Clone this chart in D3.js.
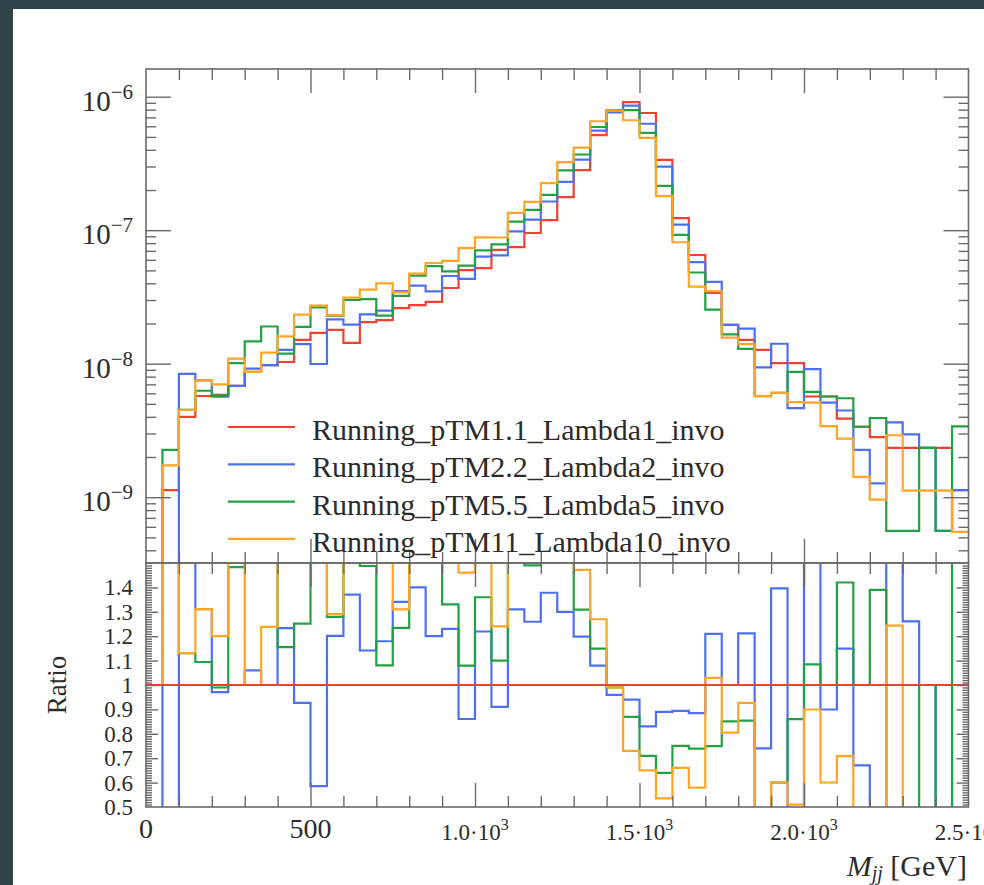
<!DOCTYPE html>
<html>
<head>
<meta charset="utf-8">
<script src="https://cdn.jsdelivr.net/npm/d3@7"></script>
<style>
  body { margin: 0; background: #2f434a; }
  svg { display: block; }
  text { font-family: "Liberation Serif", "DejaVu Serif", serif; fill: #2b2b2b; }
</style>
</head>
<body>
<svg id="chart" width="984" height="885"></svg>
<script>

// bin edges in GeV (50 GeV bins)
var binEdges = [0, 50, 100, 150, 200, 250, 300, 350, 400, 450, 500, 550, 600, 650, 700, 750, 800, 850, 900, 950,
  1000, 1050, 1100, 1150, 1200, 1250, 1300, 1350, 1400, 1450, 1500, 1550, 1600, 1650, 1700, 1750, 1800, 1850, 1900, 1950,
  2000, 2050, 2100, 2150, 2200, 2250, 2300, 2350, 2400, 2450, 2500];

// histogram contents, in units of 1e-9
var unit = 1e-9;
var valsLambda1 = [0, 1.13, 3.99, 5.73, 5.83, 6.81, 8.67, 9.77, 10.3, 15.1, 17.0, 17.9, 14.3, 20.5, 21.2, 26.1, 27.5, 29.0, 36.9, 50.2,
  52.0, 71.1, 74.8, 95.3, 119, 177, 282, 516, 795, 912, 755, 336, 123, 65.2, 33.9, 19.5, 15.1, 12.7, 10.1, 10.1,
  5.68, 5.68, 3.88, 3.37, 2.82, 2.34, 2.34, 2.34, 2.34, 1.13];
var valsLambda2 = [0, 0, 8.38, 7.51, 5.66, 6.81, 9.19, 9.77, 12.7, 14.0, 9.95, 21.5, 19.6, 23.4, 25.0, 35.0, 38.5, 34.8, 45.4, 43.2,
  63.4, 64.7, 98.0, 120, 164, 230, 338, 557, 763, 857, 627, 299, 110, 57.7, 41.0, 19.5, 18.3, 9.4, 14.1, 4.65,
  9.09, 5.11, 4.46, 2.26, 1.27, 3.63, 2.95, 2.34, 0.56, 1.13];
var valsLambda5 = [0, 2.26, 4.51, 6.27, 5.77, 10.1, 14.7, 19.0, 11.9, 18.9, 26.4, 22.9, 30.0, 30.5, 22.9, 32.2, 45.7, 53.9, 49.1, 54.2,
  70.7, 78.2, 116, 142, 184, 281, 369, 593, 787, 793, 536, 215, 92.3, 48.2, 25.4, 16.6, 12.9, 5.72, 6.06, 8.69,
  6.16, 5.68, 5.51, 3.37, 3.92, 0.56, 0.56, 2.34, 0.56, 3.39];
var valsLambda10 = [0, 1.73, 4.51, 7.51, 7.0, 10.9, 8.67, 12.1, 16.0, 23.3, 27.2, 23.1, 31.2, 35.9, 40.0, 34.2, 47.3, 56.8, 59.0, 73.3,
  88.4, 88.2, 135, 163, 225, 324, 415, 655, 787, 666, 491, 180, 81.2, 37.8, 34.9, 15.7, 14.0, 5.72, 6.06, 5.15,
  5.11, 3.41, 2.75, 1.42, 0.96, 2.91, 1.12, 1.12, 1.12, 0.55];

var seriesNames = ["Running_pTM1.1_Lambda1_invo", "Running_pTM2.2_Lambda2_invo",
  "Running_pTM5.5_Lambda5_invo", "Running_pTM11_Lambda10_invo"];
var seriesColors = ["#f0402f", "#4d70f0", "#23a043", "#ffa526"];

// axis labels
var mainDecades = [-6, -7, -8, -9];
var ratioTicks = [1.4, 1.3, 1.2, 1.1, 1.0, 0.9, 0.8, 0.7, 0.6, 0.5];
var ratioTickLabels = ["1.4", "1.3", "1.2", "1.1", "1", "0.9", "0.8", "0.7", "0.6", "0.5"];
var xMajorTicks = [0, 500, 1000, 1500, 2000, 2500];
var xTickMantissa = ["0", "500", "1.0\u00b710", "1.5\u00b710", "2.0\u00b710", "2.5\u00b710"];
var xTickExp = ["", "", "3", "3", "3", "3"];

var allVals = [valsLambda1, valsLambda2, valsLambda5, valsLambda10];

var W = 984, H = 885;
var pLeft = 146, pRight = 968.5, pTop = 69, pSplit = 563, pBottom = 807;

var svg = d3.select("#chart");

svg.append("rect").attr("width", W).attr("height", H).attr("fill", "#2f434a");
svg.append("rect").attr("x", 13).attr("y", 9).attr("width", W - 13).attr("height", H - 9).attr("fill", "#ffffff");

var x = d3.scaleLinear().domain([0, 2500]).range([pLeft, pRight]);
var yMain = d3.scaleLog().domain([Math.pow(10, -9.493), Math.pow(10, -5.7925)]).range([pSplit, pTop]);
var yRatio = d3.scaleLinear().domain([0.5, 1.5]).range([pBottom, pSplit]);

var defs = svg.append("defs");
defs.append("clipPath").attr("id", "clipMain")
  .append("rect").attr("x", pLeft).attr("y", pTop).attr("width", pRight - pLeft).attr("height", pSplit - pTop);
defs.append("clipPath").attr("id", "clipRatio")
  .append("rect").attr("x", pLeft).attr("y", pSplit).attr("width", pRight - pLeft).attr("height", pBottom - pSplit);

var line = d3.line().curve(d3.curveStepAfter);

function stepPoints(vals, f) {
  var pts = vals.map(function(v, i) { return [x(binEdges[i]), f(v, i)]; });
  var n = vals.length;
  pts.push([x(binEdges[n]), f(vals[n - 1], n - 1)]);
  return pts;
}

// ---- main panel
var gMain = svg.append("g").attr("clip-path", "url(#clipMain)");
allVals.forEach(function(vals, s) {
  gMain.append("path")
    .attr("d", line(stepPoints(vals, function(v) {
      return v > 0 ? yMain(v * unit) : pSplit + 60;
    })))
    .attr("fill", "none")
    .attr("stroke", seriesColors[s])
    .attr("stroke-width", 2.2);
});

// ---- ratio panel
var gRatio = svg.append("g").attr("clip-path", "url(#clipRatio)");
var ref = valsLambda1;
[1, 2, 3].forEach(function(s) {
  var vals = allVals[s];
  gRatio.append("path")
    .attr("d", line(stepPoints(vals, function(v, i) {
      var r = ref[i] > 0 ? v / ref[i] : 1;
      return Math.max(pSplit - 60, Math.min(pBottom + 60, yRatio(r)));
    })))
    .attr("fill", "none")
    .attr("stroke", seriesColors[s])
    .attr("stroke-width", 2.2);
});

// ---- frames
var frameColor = "#6a6a6a";
svg.append("rect").attr("x", pLeft).attr("y", pTop).attr("width", pRight - pLeft).attr("height", pSplit - pTop)
  .attr("fill", "none").attr("stroke", frameColor).attr("stroke-width", 1.6);
svg.append("rect").attr("x", pLeft).attr("y", pSplit).attr("width", pRight - pLeft).attr("height", pBottom - pSplit)
  .attr("fill", "none").attr("stroke", frameColor).attr("stroke-width", 1.6);

function styleAxis(g) {
  g.select(".domain").remove();
  g.selectAll(".tick line").attr("stroke", frameColor).attr("stroke-width", 1.4);
  g.selectAll(".tick text").remove();
}

// x ticks (inside, on every horizontal edge)
var xMinor = d3.range(100, 2500, 100).filter(function(v) { return v % 500 !== 0; });
var xMajorIn = [500, 1000, 1500, 2000];
[[pTop, d3.axisBottom], [pSplit, d3.axisTop], [pSplit, d3.axisBottom], [pBottom, d3.axisTop]].forEach(function(e) {
  svg.append("g").attr("transform", "translate(0," + e[0] + ")")
    .call(e[1](x).tickValues(xMinor).tickSize(11)).call(styleAxis);
  svg.append("g").attr("transform", "translate(0," + e[0] + ")")
    .call(e[1](x).tickValues(xMajorIn).tickSize(24)).call(styleAxis);
});

// log y ticks on main panel
var logMinor = [];
[-10, -9, -8, -7, -6].forEach(function(d) {
  for (var k = 2; k <= 9; k++) {
    var v = k * Math.pow(10, d);
    if (v > yMain.domain()[0] && v < yMain.domain()[1]) logMinor.push(v);
  }
});
var logMajor = mainDecades.map(function(d) { return Math.pow(10, d); });
[[pLeft, d3.axisRight], [pRight, d3.axisLeft]].forEach(function(e) {
  svg.append("g").attr("transform", "translate(" + e[0] + ",0)")
    .call(e[1](yMain).tickValues(logMinor).tickSize(10)).call(styleAxis);
  svg.append("g").attr("transform", "translate(" + e[0] + ",0)")
    .call(e[1](yMain).tickValues(logMajor).tickSize(25)).call(styleAxis);
});

// ratio y ticks
var ratioMinor = d3.range(51, 150).map(function(k) { return k / 100; }).filter(function(v) { return Math.round(v * 100) % 10 !== 0; });
var ratioMajor = d3.range(6, 15).map(function(k) { return k / 10; });
[[pLeft, d3.axisRight], [pRight, d3.axisLeft]].forEach(function(e) {
  svg.append("g").attr("transform", "translate(" + e[0] + ",0)")
    .call(e[1](yRatio).tickValues(ratioMinor).tickSize(6)).call(styleAxis);
  svg.append("g").attr("transform", "translate(" + e[0] + ",0)")
    .call(e[1](yRatio).tickValues(ratioMajor).tickSize(12)).call(styleAxis);
});

// reference line in ratio panel (drawn on top)
gRatio.append("path")
  .attr("d", line(stepPoints(ref, function() { return yRatio(1); })))
  .attr("fill", "none").attr("stroke", seriesColors[0]).attr("stroke-width", 2.2);

// ---- tick labels
mainDecades.forEach(function(d) {
  var yy = yMain(Math.pow(10, d));
  var t = svg.append("text").attr("x", 133).attr("y", yy + 14).attr("text-anchor", "end").style("font-size", "29px");
  t.append("tspan").text("10");
  t.append("tspan").attr("dy", -12).style("font-size", "21px").text("\u2212" + (-d));
});

ratioTicks.forEach(function(v, i) {
  svg.append("text").attr("x", 133).attr("y", yRatio(v) + 8).attr("text-anchor", "end")
    .style("font-size", "23px").text(ratioTickLabels[i]);
});

xMajorTicks.forEach(function(v, i) {
  var big = xTickExp[i] === "";
  var t = svg.append("text").attr("x", x(v)).attr("y", big ? 838 : 840).attr("text-anchor", "middle")
    .style("font-size", big ? "28px" : "23px");
  t.append("tspan").text(xTickMantissa[i]);
  if (!big) t.append("tspan").attr("dy", -10).style("font-size", "16px").text(xTickExp[i]);
});

svg.append("text").attr("transform", "translate(66,685) rotate(-90)").attr("text-anchor", "middle")
  .style("font-size", "27px").text("Ratio");

var xl = svg.append("text").attr("x", 967).attr("y", 876).attr("text-anchor", "end").style("font-size", "30px");
xl.append("tspan").style("font-style", "italic").text("M");
xl.append("tspan").attr("dy", 4).style("font-style", "italic").style("font-size", "20px").text("jj");
xl.append("tspan").attr("dy", -4).text(" [GeV]");

// ---- legend
seriesNames.forEach(function(name, i) {
  var yy = 427 + i * 37.3;
  svg.append("line").attr("x1", 228).attr("x2", 295).attr("y1", yy).attr("y2", yy)
    .attr("stroke", seriesColors[i]).attr("stroke-width", 2.2);
  svg.append("text").attr("x", 312).attr("y", yy + 13).style("font-size", "30px").text(name);
});

</script>
</body>
</html>
